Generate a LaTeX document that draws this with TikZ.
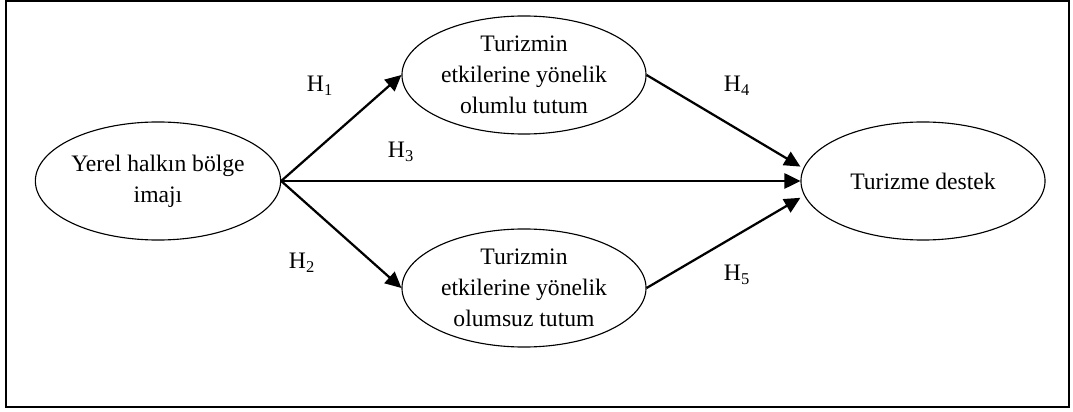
\documentclass[tikz,border=0pt]{standalone}
\usepackage{fontspec}
\setmainfont{Liberation Serif}
\usetikzlibrary{arrows.meta,shapes,positioning}

\begin{document}
\begin{tikzpicture}
  [x=0.025cm, y=-0.025cm,
  every node/.style={font=\fontsize{16.8}{22}\selectfont},
  construct/.style={ellipse, draw, line width=0.8pt, align=center,
    minimum width=6.1cm, minimum height=2.95cm, inner sep=0pt},
  hyp/.style={inner sep=1pt},
 ]
  \tikzstyle{path}=[draw, -{Triangle[length=0.4cm, width=0.38cm]}, line width=1.6pt, black]
  \useasboundingbox (0,0) rectangle (1073,412);
  \draw[line width=1.1pt] (6,1) rectangle (1069,407);

  \node[construct] (img) at (158,181) {Yerel halkın bölge\\imajı};
  \node[construct] (pos) at (524,75) {Turizmin\\etkilerine yönelik\\olumlu tutum};
  \node[construct] (neg) at (524,288) {Turizmin\\etkilerine yönelik\\olumsuz tutum};
  \node[construct] (dest) at (923,181) {Turizme destek};

  \node[hyp] (h1) at (320,86) {H\textsubscript{1}};
  \node[hyp] (h2) at (302,263) {H\textsubscript{2}};
  \node[hyp] (h3) at (401,152) {H\textsubscript{3}};
  \node[hyp] (h4) at (737,86) {H\textsubscript{4}};
  \node[hyp] (h5) at (737,275) {H\textsubscript{5}};

  \path (img.east) edge[path] (pos.west);
  \path (img.east) edge[path] (neg.west);
  \path (img.east) edge[path] (dest.west);
  \path (pos.east) edge[path] ([yshift=0.36cm]dest.west);
  \path (neg.east) edge[path] ([yshift=-0.42cm]dest.west);
\end{tikzpicture}
\end{document}
